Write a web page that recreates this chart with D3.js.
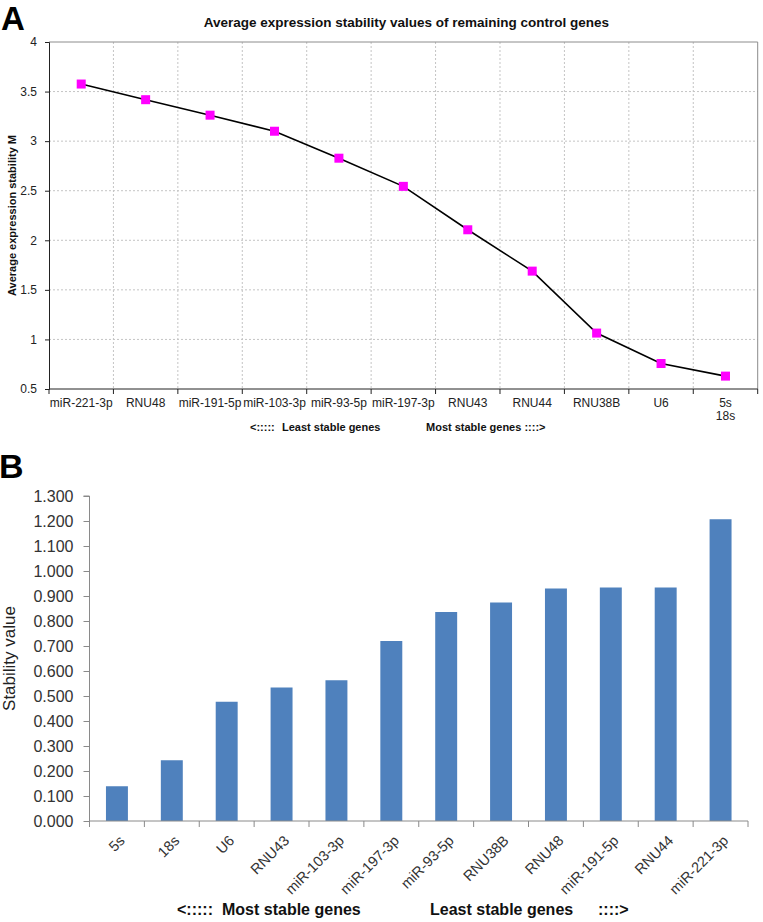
<!DOCTYPE html>
<html>
<head>
<meta charset="utf-8">
<script src="https://cdn.jsdelivr.net/npm/d3@7"></script>
<style>
  html, body { margin: 0; padding: 0; background: #fff; }
  svg { display: block; font-family: "Liberation Sans", Arial, sans-serif; }
</style>
</head>
<body>
<svg id="chart" width="763" height="922"></svg>
<script>
// ---- Panel A data ----
const catsA = ["miR-221-3p", "RNU48", "miR-191-5p", "miR-103-3p", "miR-93-5p", "miR-197-3p", "RNU43", "RNU44", "RNU38B", "U6", "5s|18s"];
const valuesA = [3.576, 3.418, 3.262, 3.100, 2.828, 2.544, 2.106, 1.689, 1.064, 0.757, 0.630];
const ticksA = [0.5, 1, 1.5, 2, 2.5, 3, 3.5, 4];

// ---- Panel B data ----
const catsB = ["5s", "18s", "U6", "RNU43", "miR-103-3p", "miR-197-3p", "miR-93-5p", "RNU38B", "RNU48", "miR-191-5p", "RNU44", "miR-221-3p"];
const valuesB = [0.139, 0.243, 0.477, 0.534, 0.563, 0.720, 0.836, 0.874, 0.930, 0.934, 0.934, 1.207];
const ticksB = [0, 0.1, 0.2, 0.3, 0.4, 0.5, 0.6, 0.7, 0.8, 0.9, 1.0, 1.1, 1.2, 1.3];

const svg = d3.select("#chart");

// ================= Panel A =================
const A = { left: 49, right: 757.7, top: 42, bottom: 389 };
const xA = d3.scaleBand().domain(catsA).range([A.left, A.right]);
const yA = d3.scaleLinear().domain([0.5, 4]).range([A.bottom, A.top]);

svg.append("text").attr("x", 1).attr("y", 30).attr("font-size", 33).attr("font-weight", "bold").attr("fill", "#000").text("A");

svg.append("text").attr("x", (A.left + A.right) / 2 + 3).attr("y", 27)
  .attr("text-anchor", "middle").attr("font-size", 13.5).attr("font-weight", "bold").attr("fill", "#111")
  .text("Average expression stability values of remaining control genes");

const gA = svg.append("g");
// horizontal gridlines
gA.selectAll("line.hg").data(ticksA.filter(t => t > 0.5 && t < 4)).enter().append("line")
  .attr("x1", A.left).attr("x2", A.right).attr("y1", d => yA(d)).attr("y2", d => yA(d))
  .attr("stroke", "#c4c4c4").attr("stroke-dasharray", "2,2").attr("stroke-width", 1);
// vertical gridlines at band boundaries
const boundsA = catsA.slice(1).map(c => xA(c));
gA.selectAll("line.vg").data(boundsA).enter().append("line")
  .attr("x1", d => d).attr("x2", d => d).attr("y1", A.top).attr("y2", A.bottom)
  .attr("stroke", "#c4c4c4").attr("stroke-dasharray", "2,2").attr("stroke-width", 1);
// top and right border
gA.append("line").attr("x1", A.left).attr("x2", A.right).attr("y1", A.top).attr("y2", A.top).attr("stroke", "#8c8c8c");
gA.append("line").attr("x1", A.right).attr("x2", A.right).attr("y1", A.top).attr("y2", A.bottom).attr("stroke", "#8c8c8c");

// y axis
const yAxisA = d3.axisLeft(yA).tickValues(ticksA).tickSize(4).tickPadding(8).tickFormat(d3.format("~g"));
const gyA = svg.append("g").attr("transform", `translate(${A.left},0)`).call(yAxisA);
gyA.select(".domain").attr("stroke", "#222");
gyA.selectAll(".tick line").attr("stroke", "#222");
gyA.selectAll(".tick text").attr("font-size", 12).attr("fill", "#222").attr("font-family", "Liberation Sans, Arial, sans-serif");

// x axis
const gxA = svg.append("g").attr("transform", `translate(0,${A.bottom})`);
gxA.append("line").attr("x1", A.left).attr("x2", A.right).attr("stroke", "#222");
gxA.selectAll("line.t").data([A.left, ...boundsA, A.right]).enter().append("line")
  .attr("x1", d => d).attr("x2", d => d).attr("y1", 0).attr("y2", 5).attr("stroke", "#222");
catsA.forEach(c => {
  const lines = c.split("|");
  const t = gxA.append("text").attr("text-anchor", "middle").attr("font-size", 12).attr("fill", "#222")
    .attr("x", xA(c) + xA.bandwidth() / 2).attr("y", 18);
  lines.forEach((l, i) => t.append("tspan").attr("x", xA(c) + xA.bandwidth() / 2).attr("dy", i === 0 ? 0 : 12.5).text(l));
});

// subtitle A
svg.append("text").attr("x", 250).attr("y", 431).attr("font-size", 11).attr("font-weight", "bold").attr("fill", "#111").text("<:::::");
svg.append("text").attr("x", 282).attr("y", 431).attr("font-size", 11).attr("font-weight", "bold").attr("fill", "#111").text("Least stable genes");
svg.append("text").attr("x", 426).attr("y", 431).attr("font-size", 11).attr("font-weight", "bold").attr("fill", "#111").text("Most stable genes ::::>");

// y label A
svg.append("text").attr("transform", `translate(16,${(A.top + A.bottom) / 2}) rotate(-90)`)
  .attr("text-anchor", "middle").attr("font-size", 11).attr("font-weight", "bold").attr("fill", "#111")
  .text("Average expression stability M");

// line + markers
const lineA = d3.line().x((d, i) => xA(catsA[i]) + xA.bandwidth() / 2).y(d => yA(d));
svg.append("path").datum(valuesA).attr("d", lineA).attr("fill", "none").attr("stroke", "#000").attr("stroke-width", 1.6);
svg.selectAll("rect.mk").data(valuesA).enter().append("rect")
  .attr("x", (d, i) => xA(catsA[i]) + xA.bandwidth() / 2 - 4.5).attr("y", d => yA(d) - 4.5)
  .attr("width", 9).attr("height", 9).attr("fill", "#ff00ff");

// ================= Panel B =================
const B = { left: 89.5, right: 748, top: 496, bottom: 821 };
const xB = d3.scaleBand().domain(catsB).range([B.left, B.right]).paddingInner(0.6).paddingOuter(0.3);
const yB = d3.scaleLinear().domain([0, 1.3]).range([B.bottom, B.top]);

svg.append("text").attr("x", -1).attr("y", 478).attr("font-size", 34).attr("font-weight", "bold").attr("fill", "#000").text("B");

const yAxisB = d3.axisLeft(yB).tickValues(ticksB).tickSize(6).tickPadding(10).tickFormat(d3.format(".3f"));
const gyB = svg.append("g").attr("transform", `translate(${B.left},0)`).call(yAxisB);
gyB.select(".domain").attr("stroke", "#8a8a8a").attr("d", `M-6,${B.top}H0V${B.bottom}`);
gyB.selectAll(".tick line").attr("stroke", "#8a8a8a");
gyB.selectAll(".tick text").attr("font-size", 16).attr("fill", "#333").attr("font-family", "Liberation Sans, Arial, sans-serif");

// bars
svg.selectAll("rect.bar").data(valuesB).enter().append("rect")
  .attr("x", (d, i) => xB(catsB[i])).attr("y", d => yB(d))
  .attr("width", xB.bandwidth()).attr("height", d => yB(0) - yB(d))
  .attr("fill", "#4f81bd");

// x axis B
const stepB = xB.step();
const gxB = svg.append("g").attr("transform", `translate(0,${B.bottom})`);
gxB.append("line").attr("x1", B.left).attr("x2", B.right).attr("stroke", "#8a8a8a");
gxB.selectAll("line.t").data(d3.range(catsB.length + 1)).enter().append("line")
  .attr("x1", i => B.left + i * stepB).attr("x2", i => B.left + i * stepB).attr("y1", 0).attr("y2", 6).attr("stroke", "#8a8a8a");
gxB.selectAll("text.xl").data(catsB).enter().append("text")
  .attr("transform", c => `translate(${xB(c) + xB.bandwidth() / 2 + 5},17) rotate(-45)`)
  .attr("text-anchor", "end").attr("dy", "0.35em").attr("font-size", 14.5).attr("fill", "#333").text(c => c);

// y label B
svg.append("text").attr("transform", `translate(15,${(B.top + B.bottom) / 2}) rotate(-90)`)
  .attr("text-anchor", "middle").attr("font-size", 17).attr("fill", "#222").text("Stability value");

// subtitle B
svg.append("text").attr("x", 177).attr("y", 915).attr("font-size", 16).attr("font-weight", "bold").attr("fill", "#111").text("<:::::");
svg.append("text").attr("x", 222).attr("y", 915).attr("font-size", 16).attr("font-weight", "bold").attr("fill", "#111").text("Most stable genes");
svg.append("text").attr("x", 430).attr("y", 915).attr("font-size", 16).attr("font-weight", "bold").attr("fill", "#111").text("Least stable genes");
svg.append("text").attr("x", 598).attr("y", 915).attr("font-size", 16).attr("font-weight", "bold").attr("fill", "#111").text("::::>");
</script>
</body>
</html>
